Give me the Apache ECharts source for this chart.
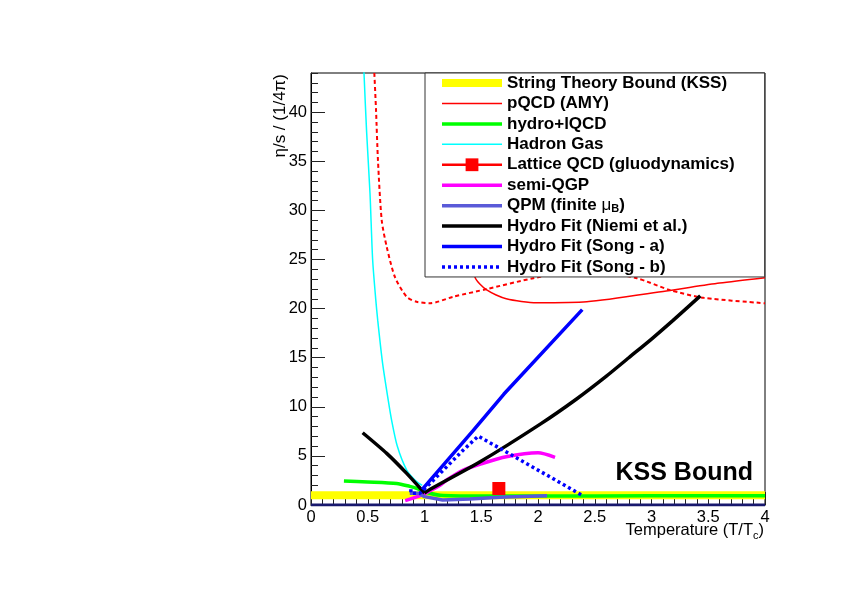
<!DOCTYPE html>
<html><head><meta charset="utf-8">
<script src="https://cdn.jsdelivr.net/npm/echarts@6/dist/echarts.min.js"></script>
<style>html,body{margin:0;padding:0;background:#fff}#c{width:842px;height:595px}</style>
</head><body><div id="c"></div>
<script>
// ---- data (T/Tc, eta/s in units of 1/4pi) ----
const kssBound = [[0, 1], [4, 1]];
const zeroLine = [[0, 0], [4, 0]];
const pqcdAmy = [[1.2, 40], [1.3, 30], [1.445, 23.2], [1.548, 21.9], [1.72, 21.0], [1.99, 20.6], [2.43, 20.7], [3.13, 21.8], [3.6, 22.6], [4.0, 23.15]];
const pqcdAlt = [[0.558, 44], [0.573, 40.2], [0.59, 35.1], [0.623, 29.0], [0.667, 26.3], [0.74, 23.2], [0.843, 21.2], [0.93, 20.7], [1.05, 20.55], [1.25, 21.2], [1.55, 22.0], [1.96, 23.1], [2.4, 24.0], [2.87, 23.1], [3.16, 21.9], [3.46, 21.1], [4.0, 20.55]];
const hydroLqcd = [[0.29, 2.44], [0.5, 2.35], [0.755, 2.2], [0.87, 1.9], [0.93, 1.7], [1.0, 1.35], [1.137, 1.0], [1.49, 0.92], [2.0, 0.92], [3.0, 0.93], [4.0, 0.95]];
const hadronGas = [[0.462, 46], [0.467, 44], [0.49, 38], [0.52, 31.7], [0.543, 25], [0.57, 21], [0.588, 18.8], [0.63, 14.5], [0.68, 10.7], [0.71, 8.65], [0.76, 6.0], [0.843, 3.56], [0.92, 2.5], [0.98, 2.0]];
const latticeQcd = [[1.655, 1.68]];
const semiQgp = [[0.83, 0.45], [0.95, 0.9], [1.05, 1.45], [1.137, 2.0], [1.195, 2.54], [1.342, 3.56], [1.5, 4.2], [1.72, 4.92], [2.0, 5.32], [2.15, 4.86]];
const qpm = [[0.87, 1.2], [0.95, 1.2], [1.0, 0.85], [1.16, 0.5], [1.4, 0.6], [1.665, 0.8], [2.08, 0.95]];
const niemiLow = [[0.455, 7.36], [0.667, 5.26], [0.843, 3.22], [1.0, 1.22]];
const niemiHigh = [[1.0, 1.22], [1.05, 1.6], [1.49, 4.4], [2.02, 8.24], [2.34, 10.8], [2.6, 13.1], [2.8, 15.0], [3.0, 16.9], [3.19, 18.8], [3.43, 21.3]];
const songA = [[0.98, 1.6], [1.43, 7.6], [1.7, 11.3], [2.39, 19.9]];
const songB = [[0.88, 1.6], [0.88, 1.2], [0.96, 1.2], [1.05, 2.2], [1.342, 5.6], [1.474, 7.02], [2.18, 2.37], [2.40, 0.92]];

const FONT = '"Liberation Sans", Arial, Helvetica, sans-serif';

function ln(name, data, color, width, type, extra) {
  return Object.assign({
    name: name, type: 'line', data: data, color: color,
    showSymbol: false, symbol: 'none', smooth: false,
    lineStyle: { width: width, type: type || 'solid', color: color },
    emphasis: { disabled: true }, animation: false
  }, extra || {});
}
const sm = { smooth: 0.25 };

const series = [
  ln('String Theory Bound (KSS)', kssBound, '#ffff00', 8),
  ln('pQCD (AMY)', pqcdAmy, '#ff0000', 1.5, 'solid', sm),
  ln('pQCD (AMY) alt', pqcdAlt, '#ff0000', 2, [4, 3], sm),
  ln('Hadron Gas', hadronGas, '#00ffff', 1.5, 'solid', sm),
  ln('hydro+lQCD', hydroLqcd, '#00ff00', 3.5, 'solid', sm),
  ln('semi-QGP', semiQgp, '#ff00ff', 3.5, 'solid', sm),
  ln('QPM (finite μB)', qpm, '#5a5ad8', 3.5),
  ln('Hydro Fit (Niemi et al.)', niemiLow, '#000000', 3.5, 'solid', sm),
  ln('Hydro Fit (Niemi et al.) upper', niemiHigh, '#000000', 3.5, 'solid', sm),
  ln('Hydro Fit (Song - a)', songA, '#0000ff', 3.5),
  ln('Hydro Fit (Song - b)', songB, '#0000ff', 3.5, [3, 3]),
  ln('zero', zeroLine, '#18186e', 3),
  ln('Lattice QCD (gluodynamics)', latticeQcd, '#ff0000', 2.5, 'solid', {
    showSymbol: true, symbol: 'rect', symbolSize: 13, itemStyle: { color: '#ff0000' }
  })
];

const noSym = { opacity: 0 };
const legendData = [
  { name: 'String Theory Bound (KSS)', lineStyle: { width: 8 }, itemStyle: noSym },
  { name: 'pQCD (AMY)', lineStyle: { width: 1.5 }, itemStyle: noSym },
  { name: 'hydro+lQCD', lineStyle: { width: 3.5 }, itemStyle: noSym },
  { name: 'Hadron Gas', lineStyle: { width: 1.5 }, itemStyle: noSym },
  { name: 'Lattice QCD (gluodynamics)', lineStyle: { width: 2.5 } },
  { name: 'semi-QGP', lineStyle: { width: 3.5 }, itemStyle: noSym },
  { name: 'QPM (finite μB)', lineStyle: { width: 3.5 }, itemStyle: noSym },
  { name: 'Hydro Fit (Niemi et al.)', lineStyle: { width: 3.5 }, itemStyle: noSym },
  { name: 'Hydro Fit (Song - a)', lineStyle: { width: 3.5 }, itemStyle: noSym },
  { name: 'Hydro Fit (Song - b)', lineStyle: { width: 3.5, type: [3, 3] }, itemStyle: noSym }
];

const chart = echarts.init(document.getElementById('c'), null, { renderer: 'canvas' });
chart.setOption({
  animation: false,
  backgroundColor: '#fff',
  grid: { left: 311, right: 77, top: 73, bottom: 90, show: true, borderColor: '#000', borderWidth: 1, backgroundColor: 'transparent' },
  xAxis: [
    { type: 'value', min: 0, max: 4, interval: 0.5,
      axisLine: { show: true, onZero: false, lineStyle: { color: '#000', width: 1 } },
      axisTick: { show: true, inside: true, length: 13, lineStyle: { color: '#222', width: 1 } },
      axisLabel: { show: true, margin: 4, color: '#000', fontFamily: FONT, fontSize: 16.5,
        formatter: function (v) { return String(+v.toFixed(1)); } },
      splitLine: { show: false } },
    { type: 'value', min: 0, max: 4, interval: 0.1, position: 'bottom',
      axisLine: { show: false }, axisLabel: { show: false }, splitLine: { show: false },
      axisTick: { show: true, inside: true, length: 6.5, lineStyle: { color: '#222', width: 1 } } }
  ],
  yAxis: [
    { type: 'value', min: 0, max: 44, interval: 5,
      axisLine: { show: true, onZero: false, lineStyle: { color: '#000', width: 1 } },
      axisTick: { show: true, inside: true, length: 14, lineStyle: { color: '#222', width: 1 } },
      axisLabel: { show: true, margin: 4, color: '#000', fontFamily: FONT, fontSize: 16.5, showMaxLabel: false },
      splitLine: { show: false } },
    { type: 'value', min: 0, max: 44, interval: 1, position: 'left',
      axisLine: { show: false }, axisLabel: { show: false }, splitLine: { show: false },
      axisTick: { show: true, inside: true, length: 7, lineStyle: { color: '#222', width: 1 } } }
  ],
  legend: {
    orient: 'vertical', left: 425, top: 73, padding: [1, 30, 1, 13],
    itemWidth: 60, itemHeight: 16, itemGap: 2.44, itemTextGap: 12,
    backgroundColor: '#fff', borderColor: '#333', borderWidth: 1,
    selectedMode: false,
    textStyle: { fontFamily: FONT, fontWeight: 'bold', fontSize: 17, color: '#000', lineHeight: 18,
      rich: {
        mu: { fontFamily: FONT, fontWeight: 'normal', fontSize: 17, lineHeight: 18, color: '#000' },
        sub: { fontFamily: FONT, fontWeight: 'bold', fontSize: 11, lineHeight: 11, verticalAlign: 'bottom', color: '#000' }
      } },
    formatter: function (name) {
      if (name.indexOf('QPM') === 0) return 'QPM (finite {mu|μ}{sub|B})';
      return name;
    },
    data: legendData
  },
  graphic: [
    { type: 'text', x: 280, y: 74, rotation: Math.PI / 2, silent: true,
      style: { text: 'η/s / (1/4π)', font: '17px ' + FONT, fill: '#000', align: 'right', verticalAlign: 'middle' } },
    { type: 'text', x: 764, y: 530, silent: true,
      style: { text: '{n|Temperature (T/T}{s|c}{n|)}', fill: '#000', align: 'right', verticalAlign: 'middle',
        rich: {
          n: { fontFamily: FONT, fontSize: 16.5, lineHeight: 22, verticalAlign: 'middle', fill: '#000' },
          s: { fontFamily: FONT, fontSize: 11, lineHeight: 11, verticalAlign: 'bottom', fill: '#000' }
        } } },
    { type: 'text', x: 753, y: 473, silent: true, z: 10,
      style: { text: 'KSS Bound', font: 'bold 25px ' + FONT, fill: '#000', align: 'right', verticalAlign: 'middle' } }
  ],
  series: series
});
</script>
</body></html>
